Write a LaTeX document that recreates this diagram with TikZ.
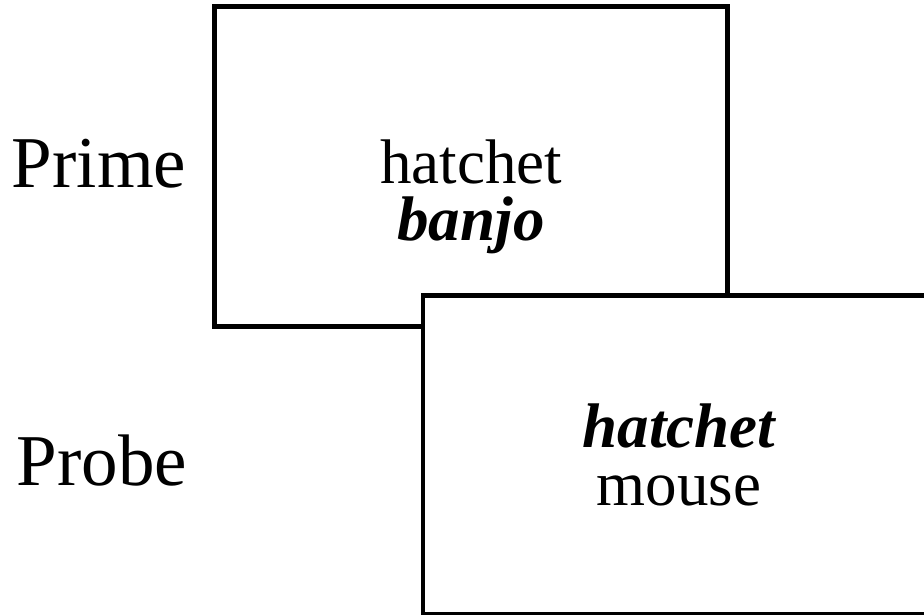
\documentclass[tikz,border=0pt]{standalone}
\usepackage{fontspec}
\setmainfont{Liberation Serif}
\begin{document}
\begin{tikzpicture}[x=1pt,y=-1pt,
  frame/.style={draw=black,fill=white,line width=4.7pt,inner sep=0pt},
  side/.style={inner sep=0pt,anchor=base,font=\fontsize{73}{88}\selectfont},
  word/.style={inner sep=0pt,anchor=base,font=\fontsize{63}{76}\selectfont},
  cue/.style={word,font=\fontsize{63}{76}\selectfont\bfseries\itshape}]
\useasboundingbox (0,0) rectangle (924,615);
\clip (0,0) rectangle (924,615);
% prime display
\node[frame,minimum width=512.8pt,minimum height=319.8pt] (primebox) at (470.9,166.6) {};
\node[word] (primetop) at (471,183) {hatchet};
\node[cue] (primebottom) at (471,240) {banjo};
% probe display, overlapping the prime display
\node[frame,minimum width=512pt,minimum height=319.2pt] (probebox) at (679,454.9) {};
\node[cue] (probetop) at (679,447) {hatchet};
\node[word] (probebottom) at (679,505) {mouse};
% side labels
\node[side] (primelabel) at (99,188) {Prime};
\node[side] (probelabel) at (102,485) {Probe};
\end{tikzpicture}
\end{document}
